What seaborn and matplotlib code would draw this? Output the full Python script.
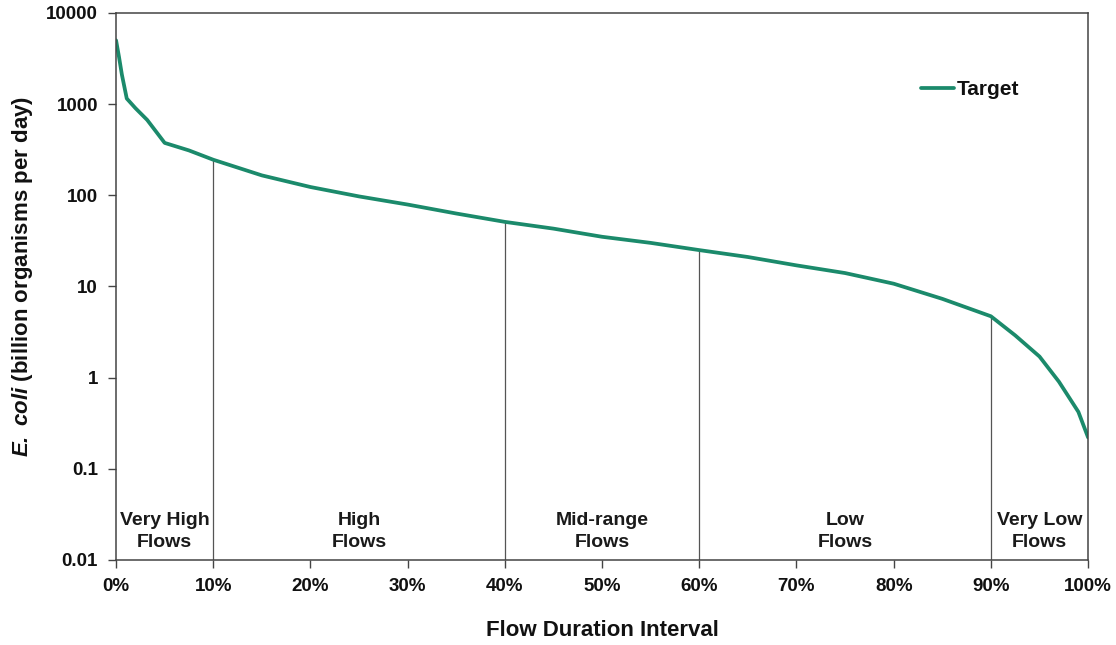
import numpy as np
import pandas as pd
import matplotlib
matplotlib.use("Agg")
import matplotlib.pyplot as plt
import seaborn as sns
from matplotlib.ticker import FixedLocator, FuncFormatter

# valores
duracao = [0, 0.3, 0.6, 1.1, 2, 3.2, 5, 7.5, 10, 15, 20, 25, 30, 35, 40, 45, 50, 55, 60,
           65, 70, 75, 80, 85, 90, 92.5, 95, 97, 99, 100]
carga = [5000, 3300, 2100, 1150, 900, 670, 375, 310, 245, 165, 123, 97, 79, 63, 51, 43, 35,
         30, 25, 21, 17, 14, 10.7, 7.3, 4.7, 2.9, 1.7, 0.9, 0.42, 0.22]
limites = [10, 40, 60, 90]
zonas = ["Very High\nFlows", "High\nFlows", "Mid-range\nFlows", "Low\nFlows", "Very Low\nFlows"]
centros = [5, 25, 50, 75, 95]
y_ticks = [0.01, 0.1, 1, 10, 100, 1000, 10000]

COR = "#1b8a6b"

sns.set_style("ticks")
plt.rcParams["font.family"] = ["Liberation Sans", "DejaVu Sans"]
plt.rcParams["mathtext.fontset"] = "custom"
plt.rcParams["mathtext.bfit"] = "Liberation Sans:bold:italic"

df = pd.DataFrame({"x": duracao, "y": carga})

fig = plt.figure(figsize=(11.16, 6.45), dpi=100)
ax = fig.add_axes([0.104, 0.132, 0.871, 0.848])

sns.lineplot(data=df, x="x", y="y", ax=ax, color=COR, linewidth=2.7, label="Target")
ax.set_yscale("log")
ax.set_xlim(0, 100)
ax.set_ylim(0.01, 10000)

# linhas verticais ate a curva
for lim in limites:
    y_lim = np.interp(lim, duracao, carga)
    ax.plot([lim, lim], [0.01, y_lim], color="#555555", linewidth=0.9, zorder=1)

for c, z in zip(centros, zonas):
    ax.text(c, 0.0205, z, ha="center", va="center", fontsize=14, fontweight="bold",
            color="#1a1a1a", linespacing=1.35)

ax.xaxis.set_major_locator(FixedLocator(range(0, 101, 10)))
ax.xaxis.set_major_formatter(FuncFormatter(lambda v, p: f"{v:.0f}%"))
ax.yaxis.set_major_locator(FixedLocator(y_ticks))
ax.yaxis.set_major_formatter(FuncFormatter(lambda v, p: f"{v:g}"))
ax.yaxis.set_minor_locator(FixedLocator([]))
ax.tick_params(axis="both", labelsize=13.5, length=6, width=1, color="#444444",
               labelcolor="#111111", pad=7)
for lbl in ax.get_xticklabels() + ax.get_yticklabels():
    lbl.set_fontweight("bold")

for s in ax.spines.values():
    s.set_visible(True)
    s.set_color("#444444")
    s.set_linewidth(1.1)

ax.set_xlabel("Flow Duration Interval", fontsize=16, fontweight="bold", labelpad=18,
              color="#111111")
ax.set_ylabel(r"$\mathbfit{E.\;coli}$ (billion organisms per day)", fontsize=16,
              fontweight="bold", color="#111111")
ax.yaxis.set_label_coords(-0.083, 0.518)

leg = ax.legend(loc="upper right", bbox_to_anchor=(0.948, 0.911), frameon=False,
                handlelength=1.6, handletextpad=0.1,
                prop={"size": 15, "weight": "bold"})
for t in leg.get_texts():
    t.set_color("#111111")

fig.savefig("out.png", dpi=100)
